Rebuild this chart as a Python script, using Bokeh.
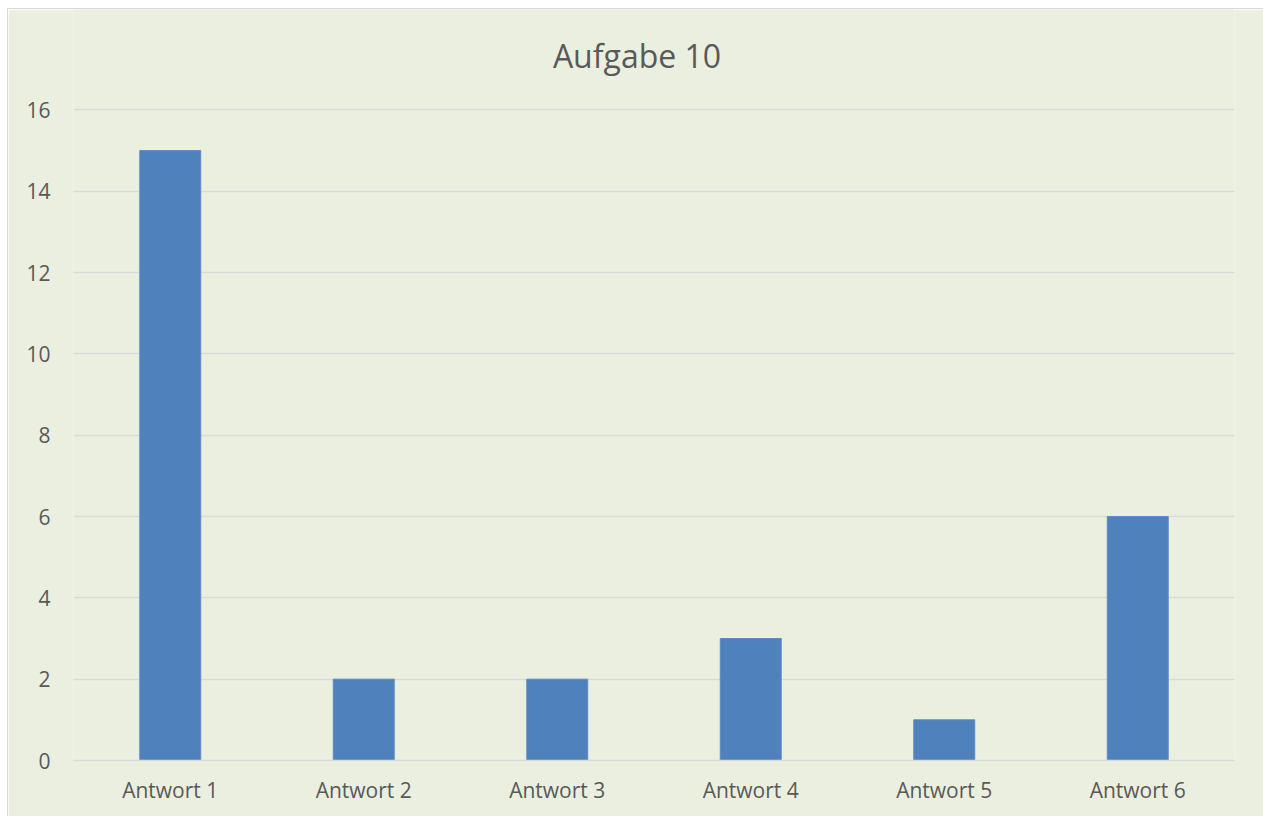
from bokeh.plotting import figure
from bokeh.models import Range1d, FixedTicker, Label
from bokeh.embed import file_html
from bokeh.resources import INLINE

# Responses to question 10
categories = ["Antwort 1", "Antwort 2", "Antwort 3", "Antwort 4", "Antwort 5", "Antwort 6"]
counts = [15, 2, 2, 3, 1, 6]
y_ticks = [0, 2, 4, 6, 8, 10, 12, 14, 16]
chart_title = "Aufgabe 10"

BG = "#EBEFDF"
TEXT = "#595959"
GRID = "#D9D9D9"
BAR = "#4F81BD"
FONT = "Open Sans"

W, H = 1255, 807
LEFT, RIGHT, BOTTOM = 65, 29, 56

# The plot frame reaches the top of the canvas so the title can sit inside it;
# the headroom above the last tick (16) is blank background.
p = figure(
    x_range=categories,
    y_range=Range1d(0, 18.47),
    width=W,
    height=H,
    output_backend="svg",
    toolbar_location=None,
    min_border_left=LEFT,
    min_border_right=RIGHT,
    min_border_top=0,
    min_border_bottom=BOTTOM,
    margin=(9, 0, 0, 8),
)
p.styles = {"outline": "1px solid #D9D9D9"}

p.background_fill_color = BG
p.border_fill_color = BG
p.outline_line_color = None

p.vbar(x=categories, top=counts, width=0.315, fill_color=BAR, line_color="#5B8BC6", line_width=1)

# chart title, centred over the whole chart area (screen offsets are from the frame's lower-left)
p.add_layout(Label(
    x=628.5 - LEFT, y=(H - BOTTOM) - 46, x_units="screen", y_units="screen",
    text=chart_title, text_align="center", text_baseline="alphabetic",
    text_font=FONT, text_font_size="32px", text_color=TEXT,
))

# y axis
p.yaxis.ticker = FixedTicker(ticks=y_ticks)
p.yaxis.axis_line_color = None
p.yaxis.major_tick_line_color = None
p.yaxis.minor_tick_line_color = None
p.yaxis.major_tick_out = 0
p.yaxis.major_label_standoff = 23
p.yaxis.major_label_text_font = FONT
p.yaxis.major_label_text_font_size = "21px"
p.yaxis.major_label_text_color = TEXT

# x axis
p.xaxis.axis_line_color = GRID
p.xaxis.axis_line_width = 1.5
p.xaxis.major_tick_line_color = None
p.xaxis.major_tick_out = 0
p.xaxis.major_label_standoff = 15
p.xaxis.major_label_text_font = FONT
p.xaxis.major_label_text_font_size = "21px"
p.xaxis.major_label_text_color = TEXT

p.xgrid.grid_line_color = None
p.ygrid.grid_line_color = GRID
p.ygrid.grid_line_width = 1.5
p.x_range.range_padding = 0

open("out.html", "w").write(file_html(p, INLINE))
